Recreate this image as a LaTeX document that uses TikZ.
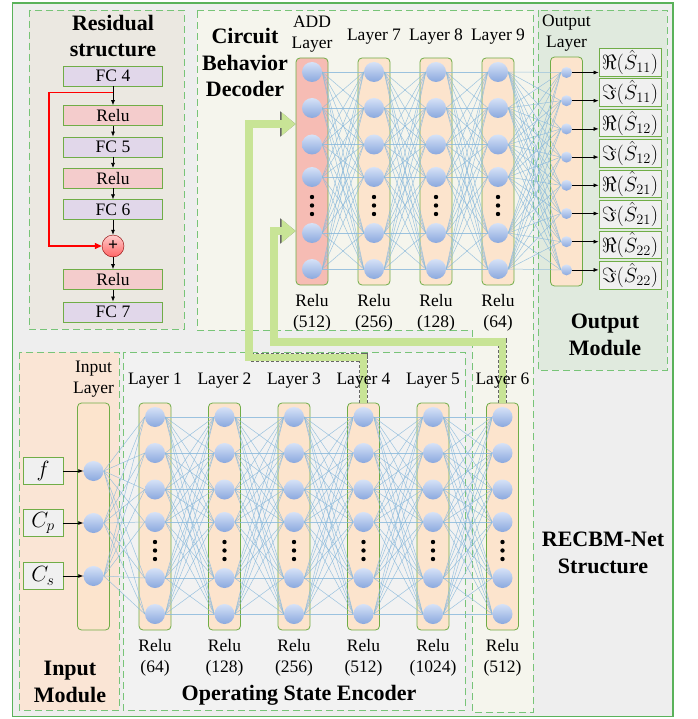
\RequirePackage{fix-cm}
\documentclass[tikz,border=0pt]{standalone}
\usepackage{fontspec}
\setmainfont{Liberation Serif}
\usetikzlibrary{positioning,arrows.meta}

\definecolor{framegreen}{RGB}{90,178,90}
\definecolor{boxgreen}{RGB}{112,173,71}
\definecolor{dashgreen}{RGB}{120,196,120}
\definecolor{bggray}{RGB}{238,238,238}
\definecolor{resfill}{RGB}{235,232,225}
\definecolor{decfill}{RGB}{245,245,237}
\definecolor{encfill}{RGB}{242,242,242}
\definecolor{infill}{RGB}{250,229,213}
\definecolor{outfill}{RGB}{224,234,222}
\definecolor{layerfill}{RGB}{252,228,205}
\definecolor{addfill}{RGB}{246,188,180}
\definecolor{fcfill}{RGB}{225,215,234}
\definecolor{relufill}{RGB}{244,204,204}
\definecolor{valfill}{RGB}{240,240,240}
\definecolor{linkblue}{RGB}{140,186,220}
\definecolor{neurontop}{RGB}{214,226,247}
\definecolor{neuronbot}{RGB}{138,168,222}
\definecolor{skipgreen}{RGB}{200,228,150}

\newcommand{\lblfont}{\fontsize{17.5}{21}\selectfont}
\newcommand{\titlefont}{\fontsize{22}{26.5}\selectfont\bfseries}

\pgfdeclarelayer{regions}
\pgfdeclarelayer{links}
\pgfsetlayers{regions,links,main}

\tikzset{
  module/.style={draw=dashgreen, dash pattern=on 7pt off 4pt, line width=0.9pt},
  layerbox/.style={draw=boxgreen, rounded corners=4pt, minimum width=32pt, minimum height=227pt, inner sep=0pt, line width=0.8pt},
  neuron/.style={circle, inner sep=0pt, minimum size=20pt, top color=neurontop, bottom color=neuronbot},
  outneuron/.style={neuron, minimum size=11pt},
  link/.style={draw=linkblue, line width=0.5pt, opacity=0.85},
  arr/.style={-{Latex[length=5pt,width=4pt]}, line width=0.7pt},
  fcbox/.style={draw=boxgreen, fill=fcfill, minimum width=99pt, minimum height=20pt, inner sep=0pt, font=\lblfont},
  relubox/.style={fcbox, fill=relufill},
  valbox/.style={draw=boxgreen, fill=valfill, line width=0.8pt, minimum width=62pt, minimum height=27.5pt, inner sep=0pt, font=\fontsize{20.5}{20.5}\selectfont},
  addcirc/.style={circle, draw=red!55!black, minimum size=22pt, inner sep=0pt, top color=red!20, bottom color=red!60, font=\lblfont\bfseries},
  lbl/.style={font=\lblfont, align=center, inner sep=0pt},
  title/.style={font=\titlefont, align=center, inner sep=0pt},
  skipedge/.style={draw=black!60, dash pattern=on 3pt off 2pt, line width=8.8pt, -{Triangle[length=15.5pt,width=24.5pt]}},
  skipfill/.style={draw=skipgreen, line width=7.4pt, -{Triangle[length=14pt,width=22.5pt]}}
}

\begin{document}
\begin{tikzpicture}[x=1pt, y=-1pt]
  \useasboundingbox (0,0) rectangle (697,719);

  % Background frame and module regions
  \begin{pgfonlayer}{regions}
    \draw[framegreen, line width=1.2pt, fill=bggray] (12.5,3) rectangle (673,716.5);
    \draw[module, fill=resfill] (29,10) rectangle (184,329);
    \draw[module, fill=decfill] (197,10) -- (533,10) -- (533,712) -- (472,712) -- (472,330) -- (197,330) -- cycle;
    \draw[module, fill=outfill] (538,10) rectangle (667,370);
    \draw[module, fill=infill] (19,352) rectangle (119,710);
    \draw[module, fill=encfill] (123,352) rectangle (465,710);
  \end{pgfonlayer}

  % Residual structure
  \node[fcbox] (fc4) at (113,76) {FC 4};
  \node[relubox, below=19pt of fc4] (relu1) {Relu};
  \node[fcbox, below=11pt of relu1] (fc5) {FC 5};
  \node[relubox, below=11pt of fc5] (relu2) {Relu};
  \node[fcbox, below=11pt of relu2] (fc6) {FC 6};
  \node[addcirc, below=15pt of fc6] (plus) {+};
  \node[relubox, below=12pt of plus] (relu3) {Relu};
  \node[fcbox, below=12pt of relu3] (fc7) {FC 7};
  \foreach \a/\b in {fc4/relu1,relu1/fc5,fc5/relu2,relu2/fc6,fc6/plus,plus/relu3,relu3/fc7}
    \draw[arr] (\a) -- (\b);
  \draw[red, line width=1.3pt, -{Triangle[length=7pt,width=6pt]}]
    ([yshift=-6pt]fc4.south) -- ++(-64,0) |- (plus.west);

  % Input module
  \begin{pgfonlayer}{regions}
    \node[layerbox, fill=layerfill] (inl) at (93.5,516.5) {};
  \end{pgfonlayer}
  \foreach \i/\y/\lab in {1/471/f, 2/523/C_p, 3/576/C_s} {
    \node[neuron] (in-\i) at (93.5,\y) {};
    \node[valbox, minimum width=40pt, font=\fontsize{22}{22}\selectfont] (v\i) at (43,\y) {$\lab$};
    \draw[arr] (v\i) -- (in-\i);
  }

  % Encoder layers
  \foreach \name/\x in {l1/155,l2/224.5,l3/294,l4/363.5,l5/433,l6/502.5} {
    \begin{pgfonlayer}{regions}
      \node[layerbox, fill=layerfill] (\name) at (\x,516.5) {};
    \end{pgfonlayer}
    \foreach \i/\dy in {1/0,2/36,3/72.5,4/105,5/161,6/197}
      \node[neuron] (\name-\i) at (\x,417+\dy) {};
    \foreach \dy in {125,133.5,142}
      \fill (\x,417+\dy) circle[radius=2.2pt];
  }

  % Decoder layers
  \foreach \name/\x/\col in {add/312/addfill,l7/374/layerfill,l8/436/layerfill,l9/498/layerfill} {
    \begin{pgfonlayer}{regions}
      \node[layerbox, fill=\col] (\name) at (\x,171.5) {};
    \end{pgfonlayer}
    \foreach \i/\dy in {1/0,2/36,3/72.5,4/105,5/161,6/197}
      \node[neuron] (\name-\i) at (\x,72+\dy) {};
    \foreach \dy in {125,133.5,142}
      \fill (\x,72+\dy) circle[radius=2.2pt];
  }

  % Output module
  \begin{pgfonlayer}{regions}
    \node[layerbox, fill=layerfill, minimum height=229pt] (outl) at (566.5,171.5) {};
  \end{pgfonlayer}
  \foreach \i/\lab in {1/\Re(\hat{S}_{11}),2/\Im(\hat{S}_{11}),3/\Re(\hat{S}_{12}),4/\Im(\hat{S}_{12}),
                       5/\Re(\hat{S}_{21}),6/\Im(\hat{S}_{21}),7/\Re(\hat{S}_{22}),8/\Im(\hat{S}_{22})} {
    \node[outneuron] (out-\i) at (566.5,{72.5+28.2*(\i-1)}) {};
    \node[valbox] (o\i) at (630,{62.2+30.45*(\i-1)}) {$\lab$};
    \draw[arr] (out-\i.east) -- (out-\i.east -| o\i.west);
  }

  % Fully connected links
  \begin{pgfonlayer}{links}
    \foreach \i in {1,2,3}
      \foreach \j in {1,...,6}
        \draw[link] (in-\i.east) -- (l1-\j.west);
    \foreach \a/\b in {l1/l2,l2/l3,l3/l4,l4/l5,l5/l6,add/l7,l7/l8,l8/l9}
      \foreach \i in {1,...,6}
        \foreach \j in {1,...,6}
          \draw[link] (\a-\i.east) -- (\b-\j.west);
    \foreach \i in {1,...,6}
      \foreach \j in {1,...,8}
        \draw[link] (l9-\i.east) -- (out-\j.west);
  \end{pgfonlayer}

  % Skip connections from encoder to decoder
  \foreach \src/\ymid/\xcol/\yin in {l4/357.5/249/124, l6/342/274/231} {
    \draw[skipedge] (\src.north) |- (\xcol,\ymid) |- (add.west |- 0,\yin);
    \draw[skipfill] (\src.north) |- (\xcol,\ymid) |- (add.west |- 0,\yin);
  }

  % Layer labels
  \node[lbl, above=5pt of inl] {Input\\Layer};
  \foreach \name/\k/\u in {l1/1/64,l2/2/128,l3/3/256,l4/4/512,l5/5/1024,l6/6/512} {
    \node[lbl, above=14pt of \name] {Layer \k};
    \node[lbl, below=9pt of \name] {Relu\\(\u)};
  }
  \node[lbl, above=5pt of add] {ADD\\Layer};
  \node[lbl, below=9pt of add] {Relu\\(512)};
  \foreach \name/\k/\u in {l7/7/256,l8/8/128,l9/9/64} {
    \node[lbl, above=13pt of \name] {Layer \k};
    \node[lbl, below=9pt of \name] {Relu\\(\u)};
  }
  \node[lbl, above=5pt of outl] {Output\\Layer};

  % Module titles
  \node[title] at (113,36) {Residual\\structure};
  \node[title] at (245,62.5) {Circuit\\Behavior\\Decoder};
  \node[title] at (605,335) {Output\\Module};
  \node[title] at (70,682) {Input\\Module};
  \node[title] at (299,695) {Operating State Encoder};
  \node[title] at (603,553) {RECBM-Net\\Structure};
\end{tikzpicture}
\end{document}
